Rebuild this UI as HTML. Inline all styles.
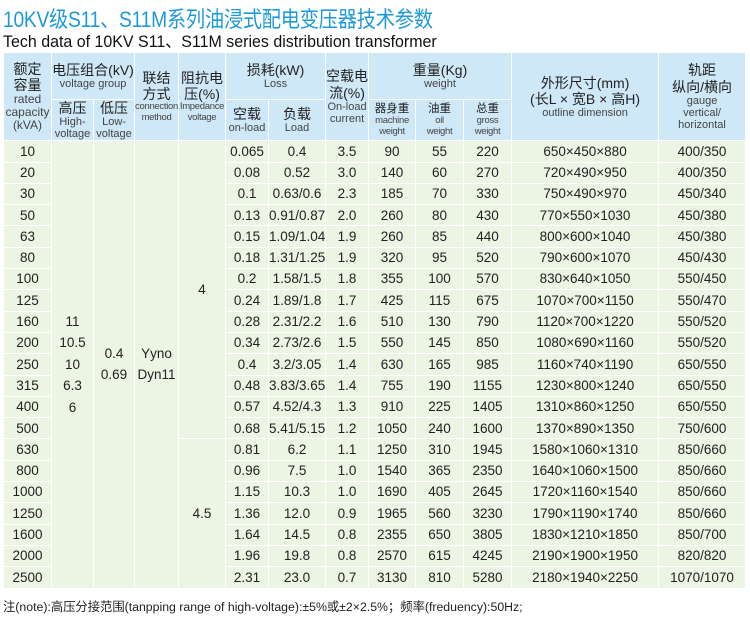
<!DOCTYPE html>
<html><head><meta charset="utf-8">
<style>
body{margin:0;width:750px;height:617px;background:#fff;font-family:"Liberation Sans","Noto Sans CJK SC",sans-serif;position:relative;overflow:hidden}
.t1{position:absolute;left:3px;top:2px;font-size:22px;color:#1f9ad8;white-space:nowrap;letter-spacing:-0.3px;transform:scaleX(0.875);transform-origin:0 0}
.t2{position:absolute;left:3px;top:27px;font-size:17px;color:#111;white-space:nowrap;transform:scaleX(0.94);transform-origin:0 0}
table{position:absolute;left:3px;top:52px;border-collapse:collapse;table-layout:fixed;width:742px}
td{border:1px solid #fff;text-align:center;padding:0;color:#222;font-size:13.5px;line-height:1.15;overflow:hidden}
thead td{background:#cfe8f7;color:#333}
tbody td{background:#ecf4e3;height:20.3px}
.cn{font-size:14px;color:#222}
.en{font-size:11px;color:#444;line-height:1.1}
.sm{font-size:9.5px;color:#444;line-height:1.1;letter-spacing:-0.3px}
.note{position:absolute;left:3px;top:597px;font-size:12.3px;color:#222;white-space:nowrap}
.ml{line-height:21.4px}
</style></head><body>
<div class="t1">10KV级S11、S11M系列油浸式配电变压器技术参数</div>
<div class="t2">Tech data of 10KV S11、S11M series distribution transformer</div>
<table>
<colgroup><col style="width:48px"><col style="width:42px"><col style="width:41px"><col style="width:44px"><col style="width:47px"><col style="width:43px"><col style="width:57px"><col style="width:43px"><col style="width:47px"><col style="width:48px"><col style="width:48px"><col style="width:147px"><col style="width:87px"></colgroup>
<thead>
<tr style="height:47px">
<td rowspan="2"><div class="cn">额定<br>容量</div><div class="en" style="font-size:12px">rated<br>capacity<br>(kVA)</div></td>
<td colspan="2"><div class="cn">电压组合(kV)</div><div class="en">voltage group</div></td>
<td rowspan="2"><div class="cn">联结<br>方式</div><div class="sm">connection<br>method</div></td>
<td rowspan="2"><div class="cn">阻抗电<br>压(%)</div><div class="sm">Impedance<br>voltage</div></td>
<td colspan="2"><div class="cn">损耗(kW)</div><div class="en">Loss</div></td>
<td rowspan="2"><div class="cn">空载电<br>流(%)</div><div class="en">On-load<br>current</div></td>
<td colspan="3"><div class="cn">重量(Kg)</div><div class="en">weight</div></td>
<td rowspan="2"><div class="cn">外形尺寸(mm)<br>(长L × 宽B × 高H)</div><div class="en">outline dimension</div></td>
<td rowspan="2"><div class="cn">轨距<br>纵向/横向</div><div class="en">gauge<br>vertical/<br>horizontal</div></td>
</tr>
<tr style="height:40px">
<td><div class="cn">高压</div><div class="en">High-<br>voltage</div></td>
<td><div class="cn">低压</div><div class="en">Low-<br>voltage</div></td>
<td><div class="cn">空载</div><div class="en">on-load</div></td>
<td><div class="cn">负载</div><div class="en">Load</div></td>
<td><div class="cn" style="font-size:11.5px">器身重</div><div class="sm">machine<br>weight</div></td>
<td><div class="cn" style="font-size:11.5px">油重</div><div class="sm">oil<br>weight</div></td>
<td><div class="cn" style="font-size:11.5px">总重</div><div class="sm">gross<br>weight</div></td>
</tr>
</thead>
<tbody>
<tr><td>10</td><td rowspan="21" class="ml">11<br>10.5<br>10<br>6.3<br>6</td><td rowspan="21" class="ml">0.4<br>0.69</td><td rowspan="21" class="ml">Yyno<br>Dyn11</td><td rowspan="14">4</td><td>0.065</td><td>0.4</td><td>3.5</td><td>90</td><td>55</td><td>220</td><td>650×450×880</td><td>400/350</td></tr>
<tr><td>20</td><td>0.08</td><td>0.52</td><td>3.0</td><td>140</td><td>60</td><td>270</td><td>720×490×950</td><td>400/350</td></tr>
<tr><td>30</td><td>0.1</td><td>0.63/0.6</td><td>2.3</td><td>185</td><td>70</td><td>330</td><td>750×490×970</td><td>450/340</td></tr>
<tr><td>50</td><td>0.13</td><td>0.91/0.87</td><td>2.0</td><td>260</td><td>80</td><td>430</td><td>770×550×1030</td><td>450/380</td></tr>
<tr><td>63</td><td>0.15</td><td>1.09/1.04</td><td>1.9</td><td>260</td><td>85</td><td>440</td><td>800×600×1040</td><td>450/380</td></tr>
<tr><td>80</td><td>0.18</td><td>1.31/1.25</td><td>1.9</td><td>320</td><td>95</td><td>520</td><td>790×600×1070</td><td>450/430</td></tr>
<tr><td>100</td><td>0.2</td><td>1.58/1.5</td><td>1.8</td><td>355</td><td>100</td><td>570</td><td>830×640×1050</td><td>550/450</td></tr>
<tr><td>125</td><td>0.24</td><td>1.89/1.8</td><td>1.7</td><td>425</td><td>115</td><td>675</td><td>1070×700×1150</td><td>550/470</td></tr>
<tr><td>160</td><td>0.28</td><td>2.31/2.2</td><td>1.6</td><td>510</td><td>130</td><td>790</td><td>1120×700×1220</td><td>550/520</td></tr>
<tr><td>200</td><td>0.34</td><td>2.73/2.6</td><td>1.5</td><td>550</td><td>145</td><td>850</td><td>1080×690×1160</td><td>550/520</td></tr>
<tr><td>250</td><td>0.4</td><td>3.2/3.05</td><td>1.4</td><td>630</td><td>165</td><td>985</td><td>1160×740×1190</td><td>650/550</td></tr>
<tr><td>315</td><td>0.48</td><td>3.83/3.65</td><td>1.4</td><td>755</td><td>190</td><td>1155</td><td>1230×800×1240</td><td>650/550</td></tr>
<tr><td>400</td><td>0.57</td><td>4.52/4.3</td><td>1.3</td><td>910</td><td>225</td><td>1405</td><td>1310×860×1250</td><td>650/550</td></tr>
<tr><td>500</td><td>0.68</td><td>5.41/5.15</td><td>1.2</td><td>1050</td><td>240</td><td>1600</td><td>1370×890×1350</td><td>750/600</td></tr>
<tr><td>630</td><td rowspan="7">4.5</td><td>0.81</td><td>6.2</td><td>1.1</td><td>1250</td><td>310</td><td>1945</td><td>1580×1060×1310</td><td>850/660</td></tr>
<tr><td>800</td><td>0.96</td><td>7.5</td><td>1.0</td><td>1540</td><td>365</td><td>2350</td><td>1640×1060×1500</td><td>850/660</td></tr>
<tr><td>1000</td><td>1.15</td><td>10.3</td><td>1.0</td><td>1690</td><td>405</td><td>2645</td><td>1720×1160×1540</td><td>850/660</td></tr>
<tr><td>1250</td><td>1.36</td><td>12.0</td><td>0.9</td><td>1965</td><td>560</td><td>3230</td><td>1790×1190×1740</td><td>850/660</td></tr>
<tr><td>1600</td><td>1.64</td><td>14.5</td><td>0.8</td><td>2355</td><td>650</td><td>3805</td><td>1830×1210×1850</td><td>850/700</td></tr>
<tr><td>2000</td><td>1.96</td><td>19.8</td><td>0.8</td><td>2570</td><td>615</td><td>4245</td><td>2190×1900×1950</td><td>820/820</td></tr>
<tr><td>2500</td><td>2.31</td><td>23.0</td><td>0.7</td><td>3130</td><td>810</td><td>5280</td><td>2180×1940×2250</td><td>1070/1070</td></tr>
</tbody>
</table>
<div class="note">注(note):高压分接范围(tanpping range of high-voltage):±5%或±2×2.5%；频率(freduency):50Hz;</div>
</body></html>
